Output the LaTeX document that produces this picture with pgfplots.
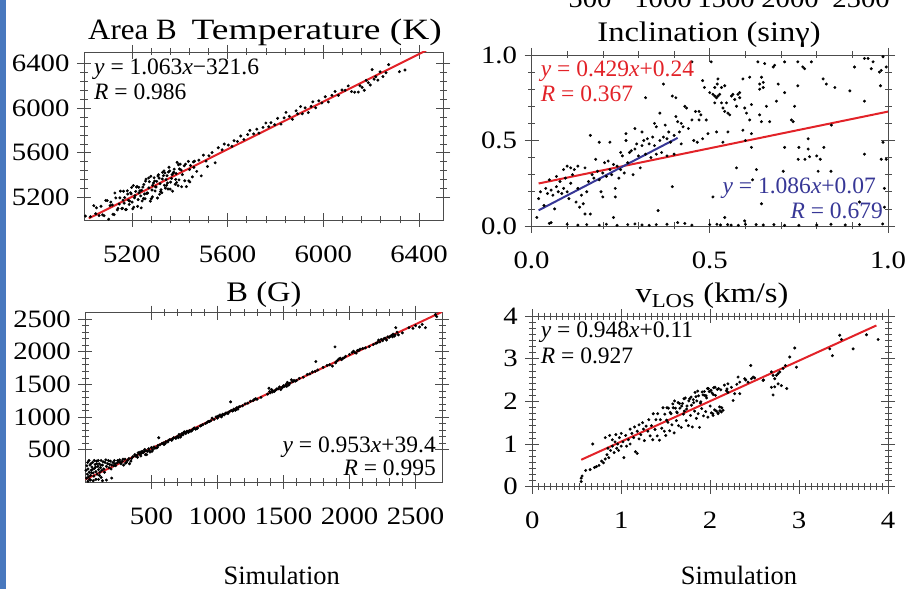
\documentclass[border=0pt]{standalone}
\usepackage{pgfplots}
\pgfplotsset{compat=1.18}
\usepackage{fontspec}
\setmainfont{Liberation Serif}
\newfontfamily\widefont{Liberation Serif}[FakeStretch=1.15]
\newfontfamily\areafont{Liberation Serif}[FakeStretch=1.05]
\newfontfamily\tempfont{Liberation Serif}[FakeStretch=1.27]
\newcommand\ticks{\widefont\fontsize{25}{25}\selectfont}
\newcommand\eqf{\fontsize{23.5}{23.5}\selectfont}
\definecolor{fitred}{RGB}{226,34,40}
\definecolor{fitblue}{RGB}{55,55,150}
\definecolor{barblue}{RGB}{72,120,190}
\pgfplotsset{
  panel/.style={
    scale only axis,
    axis line style={draw=black!70, line width=0.8pt},
    tick align=center,
    major tick length=14pt,
    minor tick length=7pt,
    every tick/.style={black!70, line width=0.6pt},
    tick label style={font=\ticks},
    xticklabel style={yshift=-15pt},
    yticklabel style={xshift=-4pt},
    /pgf/number format/1000 sep={},
    /pgf/number format/assume math mode=true,
    clip=true,
  },
  dots/.style={only marks, mark=*, mark size=1.3pt, black},
  fit/.style={line width=2pt},
}
\begin{document}
\begin{tikzpicture}[x=1pt,y=1pt]
\useasboundingbox (0pt,0pt) rectangle (910pt,589pt);
\fill[barblue] (0pt,0pt) rectangle (6pt,589pt);
% truncated labels of a panel above
\foreach \xx/\tt in {590/500,663/1000,726/1500,790/2000,861/2500}
  \node[anchor=base, font=\ticks, inner sep=0pt] at (\xx pt,581pt) {\tt};

% ---------- Panel 1: Temperature ----------
\begin{axis}[panel, at={(84pt,369pt)}, anchor=south west, width=359pt, height=168pt,
  xmin=5000, xmax=6500, ymin=5000, ymax=6500,
  xtick={5200,5600,6000,6400}, ytick={5200,5600,6000,6400}, minor tick num=4]
\addplot[dots] coordinates {
(5006,5035)(5019,4992)(5027,5030)(5041,5128)(5049,5056)(5063,5040)(5071,5123)(5084,5038)(5097,5173)(5103,5007)
(5118,5134)(5126,5047)(5133,5197)(5147,5142)(5152,5258)(5161,5104)(5170,5200)(5177,5094)(5183,5232)(5191,5169)
(5199,5290)(5204,5100)(5213,5217)(5219,5294)(5226,5182)(5234,5261)(5239,5108)(5246,5294)(5255,5190)(5259,5365)
(5266,5241)(5273,5342)(5281,5190)(5287,5310)(5293,5377)(5301,5295)(5307,5196)(5314,5374)(5322,5270)(5328,5425)
(5336,5310)(5343,5360)(5351,5277)(5358,5438)(5366,5371)(5373,5420)(5381,5319)(5389,5514)(5397,5358)(5406,5446)
(5158,5101)(5165,5257)(5186,5176)(5195,5243)(5208,5115)(5222,5299)(5230,5243)(5243,5170)(5250,5317)(5262,5239)
(5270,5375)(5277,5168)(5290,5330)(5297,5259)(5311,5404)(5318,5324)(5325,5244)(5332,5396)(5340,5285)(5347,5395)
(5355,5471)(5362,5338)(5370,5257)(5377,5454)(5385,5415)(5393,5306)(5402,5499)(5411,5405)(5419,5484)(5428,5298)
(5436,5523)(5445,5486)(5453,5385)(5462,5525)(5471,5434)(5480,5534)(5490,5394)(5499,5579)(5510,5526)(5522,5573)
(5535,5602)(5548,5511)(5561,5645)(5577,5627)(5586,5678)(5603,5669)(5618,5658)(5627,5708)(5641,5701)(5655,5750)
(5668,5719)(5684,5763)(5693,5800)(5709,5769)(5722,5811)(5731,5776)(5748,5827)(5760,5866)(5772,5832)(5781,5869)
(5797,5851)(5809,5908)(5823,5856)(5836,5912)(5844,5961)(5858,5926)(5871,5899)(5886,5975)(5893,5948)(5905,6013)
(5912,5948)(5924,6001)(5937,5959)(5949,6014)(5956,6055)(5968,6002)(5981,6064)(5994,6045)(6008,6100)(6021,6054)
(6036,6113)(6049,6148)(6063,6113)(6078,6161)(6091,6158)(6104,6197)(6118,6147)(6131,6141)(6146,6142)(6153,6199)
(6162,6184)(6171,6158)(6179,6247)(6188,6226)(6196,6205)(6204,6343)(6212,6257)(6219,6279)(6228,6249)(6237,6323)
(6249,6281)(6262,6315)(6273,6387)(6318,6324)(6341,6339)
(5112,5160)(5139,5090)(5168,5150)(5201,5160)(5216,5255)(5237,5215)(5253,5232)(5284,5268)(5304,5345)(5316,5230)
(5338,5420)(5349,5330)(5368,5405)(5383,5362)(5399,5455)(5421,5350)(5441,5450)(5459,5470)(5516,5478)(5442,5340)
(5052,5109)(5078,5046)(5091,5175)(5109,5129)(5121,5052)(5129,5241)(5142,5104)(5150,5198)(5163,5177)(5174,5093)
(5181,5261)(5189,5139)(5197,5233)(5206,5307)(5211,5198)(5224,5122)(5229,5292)(5241,5265)(5248,5192)(5257,5347)
(5264,5239)(5271,5287)(5279,5390)(5286,5207)(5295,5347)(5299,5296)(5309,5392)(5320,5254)(5327,5366)(5334,5438)
(5345,5310)(5353,5429)(5360,5276)(5375,5427)(5387,5335)(5395,5493)(5408,5297)(5424,5499)(5438,5349)(5457,5519)
};
\addplot[fitred, fit] coordinates {(5020,5014.7) (6430,6513.5)};
\end{axis}

% ---------- Panel 2: Inclination ----------
\begin{axis}[panel, at={(531.5pt,363pt)}, anchor=south west, width=356.5pt, height=171pt,
  xmin=0, xmax=1, ymin=0, ymax=1,
  xtick={0,0.5,1}, ytick={0,0.5,1}, minor tick num=4,
  /pgf/number format/fixed, /pgf/number format/fixed zerofill, /pgf/number format/precision=1]
\addplot[dots] coordinates {
(0.050,0.015)(0.055,0.02)(0.10,0.01)(0.13,0.005)(0.155,0.008)(0.19,0.005)(0.21,0.01)(0.24,0.004)(0.27,0.008)(0.29,0.012)
(0.31,0.006)(0.33,0.004)(0.35,0.008)(0.38,0.01)(0.41,0.02)(0.43,0.015)(0.45,0.005)(0.5,0.008)(0.52,0.01)(0.53,0.006)
(0.55,0.008)(0.56,0.005)(0.6,0.01)(0.63,0.008)(0.68,0.008)(0.71,0.004)(0.80,0.006)(0.84,0.01)(0.88,0.006)(0.92,0.008)
(0.985,0.012)(0.75,0.004)(0.65,0.006)(0.58,0.004)
(0.015,0.05)(0.02,0.16)(0.025,0.2)(0.035,0.12)(0.04,0.22)(0.045,0.19)(0.05,0.27)(0.055,0.21)(0.06,0.18)(0.065,0.1)
(0.07,0.29)(0.07,0.23)(0.075,0.2)(0.08,0.26)(0.085,0.19)(0.09,0.33)(0.09,0.22)(0.095,0.28)(0.1,0.35)(0.1,0.2)
(0.105,0.16)(0.11,0.34)(0.11,0.25)(0.115,0.3)(0.12,0.33)(0.125,0.14)(0.13,0.35)(0.13,0.22)(0.135,0.11)(0.14,0.18)
(0.145,0.13)(0.15,0.07)(0.15,0.34)(0.155,0.2)(0.16,0.26)(0.165,0.07)(0.165,0.53)(0.17,0.3)(0.175,0.28)(0.18,0.39)
(0.185,0.32)(0.19,0.49)(0.19,0.27)(0.195,0.2)(0.2,0.17)(0.2,0.31)(0.205,0.37)(0.21,0.29)(0.215,0.38)(0.22,0.49)
(0.22,0.33)(0.225,0.3)(0.23,0.36)(0.23,0.05)(0.235,0.22)(0.235,0.17)(0.24,0.35)(0.245,0.28)(0.25,0.43)(0.25,0.33)
(0.255,0.41)(0.26,0.31)(0.265,0.54)(0.265,0.5)(0.27,0.37)(0.275,0.43)(0.28,0.44)(0.285,0.3)(0.29,0.45)(0.29,0.57)
(0.295,0.48)(0.3,0.41)(0.305,0.34)(0.31,0.55)(0.31,0.47)(0.315,0.5)(0.32,0.42)(0.32,0.75)(0.325,0.51)(0.33,0.48)
(0.335,0.4)(0.34,0.52)(0.345,0.6)(0.345,0.47)(0.35,0.58)(0.35,0.42)(0.355,0.09)(0.36,0.66)(0.36,0.5)(0.365,0.43)
(0.37,0.83)(0.37,0.52)(0.375,0.59)(0.38,0.51)(0.38,0.41)(0.385,0.55)(0.39,0.49)(0.395,0.76)(0.395,0.23)(0.4,0.53)
(0.4,0.42)(0.405,0.75)(0.405,0.64)(0.41,0.61)(0.415,0.55)(0.42,0.6)(0.42,0.48)(0.425,0.58)(0.43,0.7)(0.435,0.69)
(0.44,0.57)(0.45,0.96)(0.45,0.62)(0.455,0.5)(0.46,0.67)(0.465,0.49)(0.47,0.67)(0.47,0.62)(0.475,0.65)(0.48,0.85)
(0.48,0.51)(0.485,0.81)(0.49,0.62)
(0.495,0.54)(0.50,0.78)(0.504,0.96)(0.509,0.77)(0.509,0.17)(0.514,0.81)(0.514,0.76)(0.514,0.72)(0.519,0.75)(0.519,0.55)
(0.521,0.83)(0.523,0.86)(0.523,0.76)(0.528,0.77)(0.533,0.81)(0.533,0.72)(0.537,0.69)(0.537,0.49)(0.542,0.82)(0.542,0.67)
(0.542,0.05)(0.547,0.72)(0.551,0.66)(0.551,0.55)(0.556,0.65)(0.561,0.76)(0.565,0.77)(0.570,0.74)(0.575,0.7)(0.575,0.34)
(0.579,0.77)(0.584,0.78)(0.584,0.75)(0.593,0.86)(0.593,0.56)(0.598,0.69)(0.598,0.03)(0.603,0.66)(0.612,0.87)(0.612,0.62)
(0.617,0.71)(0.617,0.46)(0.617,0.54)(0.631,0.33)(0.635,0.96)(0.64,0.83)(0.64,0.8)(0.64,0.65)(0.645,0.87)(0.645,0.61)
(0.645,0.13)(0.65,0.84)(0.65,0.81)(0.654,0.95)(0.659,0.7)(0.668,0.61)(0.678,0.93)(0.682,0.94)(0.687,0.73)(0.692,0.83)
(0.706,0.32)(0.71,0.96)(0.71,0.78)(0.71,0.46)(0.729,0.62)(0.734,0.61)(0.738,0.7)(0.747,0.96)(0.747,0.82)(0.748,0.39)
(0.761,0.93)(0.766,0.92)(0.767,0.39)(0.776,0.51)(0.776,0.45)(0.785,0.96)(0.804,0.32)(0.818,0.86)(0.827,0.83)(0.841,0.59)
(0.851,0.81)(0.893,0.79)(0.906,0.93)(0.934,0.98)(0.934,0.73)(0.934,0.42)(0.944,0.98)(0.953,0.92)(0.958,0.96)(0.976,0.9)
(0.979,0.82)(0.981,0.91)(0.981,0.39)(0.986,0.99)(0.986,0.49)(0.995,0.93)(0.995,0.39)(0.99,0.22)(0.99,0.11)(0.62,0.27)
(0.8,0.41)(0.81,0.39)(0.82,0.46)(0.75,0.46)(0.78,0.405)(0.92,0.14)(0.84,0.32)(0.6,0.50)
};
\addplot[fitred, fit] coordinates {(0.02,0.2486) (1.0,0.669)};
\addplot[fitblue, fit] coordinates {(0.02,0.0917) (0.41,0.5153)};
\end{axis}

% ---------- Panel 3: B ----------
\begin{axis}[panel, at={(85.3pt,107pt)}, anchor=south west, width=356.7pt, height=169.3pt,
  xmin=0, xmax=2700, ymin=0, ymax=2600,
  xtick={500,1000,1500,2000,2500}, ytick={500,1000,1500,2000,2500}, minor tick num=4]
\addplot[dots] coordinates {
(10,60)(15,120)(20,200)(25,80)(30,150)(35,260)(40,100)(45,180)(50,230)(55,300)
(60,140)(65,90)(70,210)(75,270)(80,160)(85,320)(90,120)(95,240)(100,190)(105,280)
(110,150)(115,220)(120,330)(125,180)(130,260)(140,200)(150,300)(160,240)(170,280)(180,220)
(190,320)(200,260)(210,300)(220,330)(230,250)(240,290)(250,310)(260,340)(270,280)(280,320)
(290,260)(300,350)(310,300)(320,330)(335,280)(350,360)
(20,10)(40,30)(60,20)(100,40)(130,20)(160,30)(200,60)(120,70)(80,40)
(5,180)(12,250)(18,300)(28,330)(33,40)(42,280)(48,140)(58,200)(68,330)(78,230)
(88,280)(98,330)(108,100)(118,260)(135,310)(145,150)(155,340)(175,330)(185,270)(195,200)
(215,250)(225,280)(245,330)(265,300)(285,350)(305,290)(330,360)(345,320)
(360,390)(375,420)(390,410)(400,450)(410,430)(420,400)(430,470)(440,455)(450,500)(455,420)
(460,480)(470,470)(480,510)(490,460)(500,530)(510,495)(520,540)(535,520)(550,560)(556,680)
(565,570)(580,590)(595,575)(610,620)(625,615)(640,650)(655,640)(670,680)(685,670)(700,700)
(710,730)(720,690)(730,740)(740,725)(750,770)(760,745)(770,780)(780,760)(790,790)(800,780)
(810,800)(820,820)(835,810)(850,830)(870,860)(890,880)(910,900)(930,930)(950,940)(960,980)
(975,960)(990,1000)(1000,980)(1010,1010)(1020,1030)(1030,1000)(1040,1040)(1050,1030)(1060,1050)(1075,1060)
(1090,1080)(1100,1230)(1105,1100)(1115,1090)(1125,1120)(1135,1100)(1145,1140)(1155,1120)(1170,1160)(1190,1170)
(1210,1200)(1230,1210)(1250,1240)(1270,1250)(1290,1280)(1300,1270)(1330,1300)(1380,1350)(1390,1440)(1400,1370)
(1410,1420)(1420,1400)(1430,1390)(1450,1430)(1470,1460)(1480,1420)(1490,1450)(1500,1480)(1510,1470)(1520,1500)
(1530,1530)(1540,1490)(1550,1520)(1560,1570)(1570,1540)(1580,1560)(1600,1560)(1620,1590)(1650,1610)(1680,1650)
(1700,1660)(1720,1690)(1740,1700)(1745,1850)(1760,1720)(1800,1760)(1830,1790)(1850,1800)(1870,1780)(1890,2075)
(1895,1830)(1900,1850)(1910,1870)(1920,1890)(1930,1900)(1950,1900)(1970,1930)(2000,1960)(2020,1990)(2030,2010)
(2050,1980)(2060,2020)(2080,2040)(2100,2050)(2120,2060)(2150,2080)(2180,2110)(2200,2130)(2210,2140)(2220,2180)
(2230,2150)(2250,2170)(2260,2200)(2270,2210)(2280,2180)(2290,2230)(2300,2220)(2320,2250)(2330,2270)(2340,2240)
(2350,2370)(2360,2300)(2370,2260)(2400,2290)(2450,2370)(2480,2360)(2500,2400)(2530,2380)(2550,2420)(2575,2370)
(2650,2570)(2660,2540)
(380,400)(395,380)(415,460)(425,440)(445,470)(465,420)(485,480)(505,470)(525,520)(545,530)
(590,600)(605,590)(630,640)(660,660)(690,690)(705,680)(725,710)(745,760)(765,770)(785,780)
(805,790)(825,830)(845,820)(880,870)(920,910)(940,930)(1005,1010)(1035,1020)(1065,1060)(1080,1050)
(1120,1100)(1140,1110)(1160,1150)(1280,1270)(1395,1390)(1415,1380)(1440,1410)(1460,1430)(1495,1460)(1525,1470)
(1545,1510)(1590,1550)(1940,1880)(1960,1910)(2040,1990)(2070,2020)(2240,2190)(2310,2240)(2325,2230)(2345,2260)
};
\addplot[fitred, fit] coordinates {(0,39.4) (2700,2612.5)};
\end{axis}

% ---------- Panel 4: vLOS ----------
\begin{axis}[panel, at={(532.3pt,102.3pt)}, anchor=south west, width=355.7pt, height=170.7pt,
  xmin=0, xmax=4, ymin=0, ymax=4,
  xtick={0,1,2,3,4}, ytick={0,1,2,3,4}, minor x tick num=14, minor y tick num=6]
\addplot[dots] coordinates {
(0.55,0.12)(0.55,0.2)(0.56,0.25)(0.6,0.38)(0.65,0.4)(0.68,1.0)(0.7,0.45)(0.72,0.47)(0.75,0.5)(0.78,0.6)
(0.8,0.56)(0.82,0.65)(0.82,1.15)(0.84,0.75)(0.85,0.9)(0.86,0.68)(0.87,1.2)(0.88,0.85)(0.9,0.95)(0.9,1.1)
(0.92,0.8)(0.93,1.05)(0.94,1.22)(0.95,0.9)(0.96,1.0)(0.97,0.85)(0.98,1.15)(1.0,0.95)(1.0,1.25)(1.02,1.05)
(1.03,0.68)(1.05,1.2)(1.06,0.95)(1.08,1.1)(1.1,1.35)(1.1,1.0)(1.12,1.25)(1.14,1.15)(1.15,1.4)(1.16,0.82)
(1.18,1.3)(1.18,0.78)(1.2,1.12)(1.2,1.45)(1.22,1.22)(1.24,1.5)(1.25,1.35)(1.26,1.08)(1.28,1.42)(1.3,1.3)
(1.31,1.57)(1.34,1.43)(1.36,1.71)(1.39,1.57)(1.41,1.71)(1.44,1.57)(1.47,1.85)(1.49,1.70)(1.51,1.56)(1.53,1.84)
(1.56,1.71)(1.58,1.94)(1.61,1.84)(1.63,1.73)(1.64,1.97)(1.66,1.84)(1.69,1.95)(1.71,1.77)(1.72,2.08)(1.74,1.89)
(1.77,2.06)(1.79,1.91)(1.81,2.04)(1.83,2.21)(1.85,2.01)(1.87,2.13)(1.89,1.96)(1.91,2.22)(1.94,2.14)(1.96,2.08)
(1.97,2.30)(1.99,2.23)(2.02,2.20)(2.04,2.32)(2.06,2.14)(2.08,2.28)
(1.325,1.19)(1.355,1.10)(1.38,1.34)(1.405,1.19)(1.43,1.09)(1.455,1.37)(1.485,1.30)(1.5,1.20)(1.525,1.51)(1.545,1.31)
(1.57,1.45)(1.595,1.26)(1.62,1.55)(1.645,1.43)(1.675,1.39)(1.7,1.70)(1.73,1.55)(1.755,1.43)(1.78,1.67)(1.8,1.40)
(1.825,1.77)(1.845,1.60)(1.865,1.71)(1.88,1.39)(1.905,1.83)(1.925,1.66)(1.95,1.76)(1.975,1.63)(2.0,1.89)(2.03,1.71)
(2.05,1.80)(2.07,1.77)(2.09,1.73)(2.11,1.78)(2.13,1.85)
(1.515,1.85)(1.55,1.74)(1.585,1.85)(1.6,2.01)(1.625,1.75)(1.655,1.95)(1.68,1.89)(1.705,2.06)(1.735,1.82)(1.76,2.01)
(1.785,2.10)(1.815,1.97)(1.84,2.11)(1.86,2.24)(1.895,1.99)(1.92,2.15)(1.935,2.23)(1.955,2.13)(1.98,2.30)(2.01,2.26)
(2.035,2.16)(2.055,2.33)(2.095,2.30)(2.12,2.27)(2.16,2.38)(2.19,2.29)
(2.014,1.73)(2.033,1.67)(2.089,1.71)(2.107,1.87)(2.126,1.75)(2.145,1.79)(2.183,2.25)(2.2,2.41)
(2.2,2.21)(2.239,2.33)(2.258,2.02)(2.276,2.18)(2.314,2.57)(2.333,2.45)(2.333,2.18)(2.389,2.53)(2.426,2.45)(2.456,2.84)
(2.464,2.53)(2.483,2.57)(2.595,2.49)(2.689,2.69)(2.689,2.33)(2.708,2.61)(2.708,2.15)(2.726,2.53)(2.726,2.34)(2.745,2.61)
(2.764,2.65)(2.764,2.41)(2.783,2.69)(2.801,2.37)(2.82,2.77)(2.846,2.84)(2.861,2.3)(2.895,3.04)(2.951,3.25)(2.97,2.8)
(3.345,3.23)(3.375,3.07)(3.457,3.55)(3.476,3.45)(3.608,3.23)(3.758,3.56)(3.889,3.45)
(2.3,2.4)(2.4,2.5)(2.5,2.55)(2.6,2.5)
};
\addplot[fitred, fit] coordinates {(0.55,0.631) (3.87,3.779)};
\end{axis}

% ---------- titles and texts ----------
\node[anchor=base west, inner sep=0pt, font=\areafont\fontsize{29.5}{29.5}\selectfont] at (88pt,549.7pt) {Area B};
\node[anchor=base east, inner sep=0pt, font=\tempfont\fontsize{29.5}{29.5}\selectfont] at (442pt,549.7pt) {Temperature (K)};
\node[anchor=base, inner sep=0pt, font=\widefont\fontsize{28.3}{28.3}\selectfont] at (709pt,547.3pt) {Inclination (sinγ)};
\node[anchor=base, inner sep=0pt, font=\widefont\fontsize{28.3}{28.3}\selectfont] at (264pt,287.3pt) {B (G)};
\node[anchor=base, inner sep=0pt, font=\widefont\fontsize{28.3}{28.3}\selectfont] at (712pt,286.3pt) {v\textsubscript{LOS} (km/s)};
\node[anchor=base, inner sep=0pt, font=\fontsize{26.5}{26.5}\selectfont] at (281.7pt,4pt) {Simulation};
\node[anchor=base, inner sep=0pt, font=\fontsize{26.5}{26.5}\selectfont] at (739pt,4pt) {Simulation};

\node[anchor=base west, inner sep=0pt, font=\eqf] at (94pt,514pt) {\textit{y} = 1.063\textit{x}−321.6};
\node[anchor=base west, inner sep=0pt, font=\eqf] at (94pt,489pt) {\textit{R} = 0.986};
\node[anchor=base west, inner sep=0pt, font=\eqf, text=fitred] at (540.7pt,512pt) {\textit{y} = 0.429\textit{x}+0.24};
\node[anchor=base west, inner sep=0pt, font=\eqf, text=fitred] at (540.7pt,487pt) {\textit{R} = 0.367};
\node[anchor=base east, inner sep=0pt, font=\eqf, text=fitblue] at (876pt,395.3pt) {\textit{y} = 1.086\textit{x}+0.07};
\node[anchor=base east, inner sep=0pt, font=\eqf, text=fitblue] at (883pt,370.3pt) {\textit{R} = 0.679};
\node[anchor=base east, inner sep=0pt, font=\eqf] at (436pt,136.3pt) {\textit{y} = 0.953\textit{x}+39.4};
\node[anchor=base east, inner sep=0pt, font=\eqf] at (436pt,113pt) {\textit{R} = 0.995};
\node[anchor=base west, inner sep=0pt, font=\eqf] at (540.7pt,251pt) {\textit{y} = 0.948\textit{x}+0.11};
\node[anchor=base west, inner sep=0pt, font=\eqf] at (540.7pt,225.3pt) {\textit{R} = 0.927};
\end{tikzpicture}
\end{document}
